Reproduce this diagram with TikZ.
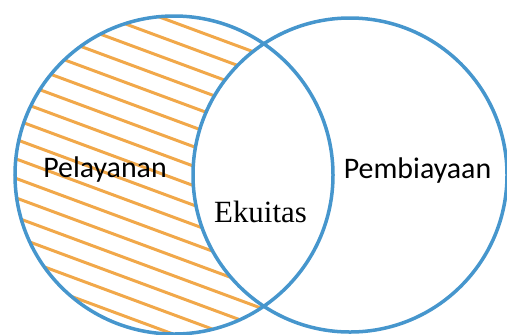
\documentclass[tikz,border=0pt]{standalone}
\usepackage{fontspec}
\newfontfamily\labelsans{Carlito}
\newfontfamily\labelserif{Liberation Serif}
\definecolor{ringblue}{RGB}{70,150,205}
\definecolor{hatchorange}{RGB}{241,168,74}
\begin{document}
\begin{tikzpicture}[x=1bp, y=-1bp,
    ring/.style={draw=ringblue, line width=3.5bp},
    hatch/.style={draw=hatchorange, line width=3bp},
    sidelabel/.style={anchor=base, inner sep=0pt, font=\labelsans\fontsize{30}{36}\selectfont},
    midlabel/.style={anchor=base, inner sep=0pt, font=\labelserif\fontsize{31}{37}\selectfont}]
  \useasboundingbox (0,0) rectangle (507,334);
  \coordinate (lc) at (174,175);
  \coordinate (rc) at (350,175);
  \begin{scope}[even odd rule]
    \clip (lc) circle[radius=159bp];
    \clip (0,0) rectangle (507,334) (rc) circle[radius=157bp];
    \foreach \k in {-11,...,7}
      \draw[hatch] (0,{190+19.5*\k-37}) -- (340,{190+19.5*\k+88.8});
  \end{scope}
  \draw[ring] (lc) circle[radius=159bp];
  \draw[ring] (rc) circle[radius=157bp];
  \node[sidelabel] (pelayanan) at (105,177) {Pelayanan};
  \node[sidelabel] (pembiayaan) at (417.5,178) {Pembiayaan};
  \node[midlabel] (ekuitas) at (260.5,222) {Ekuitas};
\end{tikzpicture}
\end{document}
